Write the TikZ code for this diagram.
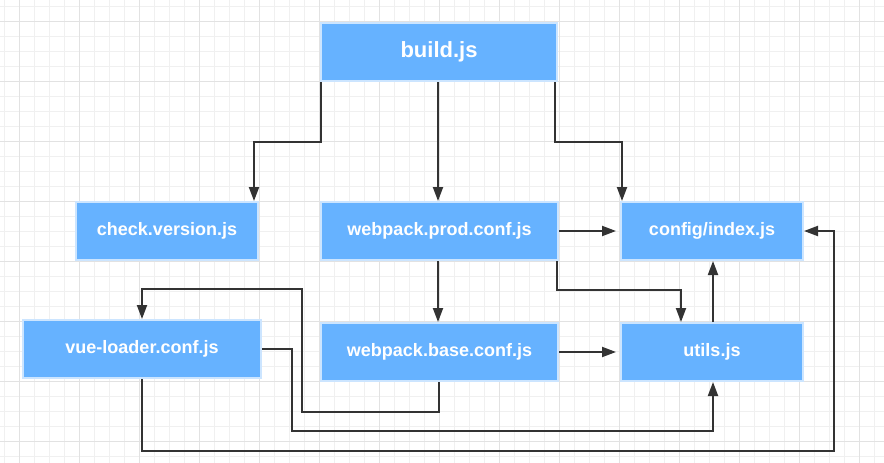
\documentclass[tikz,border=0pt]{standalone}
\usepackage{fontspec}
\setmainfont{Liberation Sans}
\usetikzlibrary{arrows.meta}
\definecolor{gridminor}{HTML}{F0F0F0}
\definecolor{gridmajor}{HTML}{E2E2E2}
\definecolor{boxfill}{HTML}{66B2FF}
\definecolor{boxedge}{HTML}{CCE5FF}
\definecolor{wire}{HTML}{333333}
\tikzset{
  filebox/.style={rectangle, fill=boxfill, draw=boxedge, line width=2pt,
    minimum height=58pt, inner sep=0pt, text=white,
    font=\fontsize{18pt}{20pt}\selectfont\bfseries},
  wirearrow/.style={draw=wire, line width=2pt,
    -{Triangle[length=14pt,width=10pt]}},
}
\begin{document}
\begin{tikzpicture}[x=1pt,y=-1pt]
\useasboundingbox (0,0) rectangle (884,463);
\fill[white] (0,0) rectangle (884,463);
% grid
\foreach \x in {4.5,19.5,...,884} \draw[gridminor, line width=1pt] (\x,0) -- (\x,463);
\foreach \y in {6.5,21.5,...,463} \draw[gridminor, line width=1pt] (0,\y) -- (884,\y);
\foreach \x in {19.5,79.5,...,884} \draw[gridmajor, line width=1pt] (\x,0) -- (\x,463);
\foreach \y in {21.5,81.5,...,463} \draw[gridmajor, line width=1pt] (0,\y) -- (884,\y);
% nodes
\node[filebox, minimum width=236pt, font=\fontsize{22pt}{24pt}\selectfont\bfseries] (build) at (439,52) {build.js};
\node[filebox, minimum width=182pt] (check) at (167,231) {check.version.js};
\node[filebox, minimum width=237pt] (prod) at (439.5,231) {webpack.prod.conf.js};
\node[filebox, minimum width=182pt] (config) at (712,231) {config/index.js};
\node[filebox, minimum width=182pt] (utils) at (712,352) {utils.js};
\node[filebox, minimum width=238pt] (vue) at (142,349) {vue-loader.conf.js};
\node[filebox, minimum width=237pt] (base) at (439.5,352) {webpack.base.conf.js};
% connectors
\draw[wirearrow] ([xshift=-118pt]build.south) -- ++(0,60) -| ([xshift=-5pt]check.north east);
\draw[wirearrow] ([xshift=-1pt]build.south) -- ([xshift=-1.5pt]prod.north);
\draw[wirearrow] ([xshift=116pt]build.south) -- ++(0,60) -| ([xshift=2pt]config.north west);
\draw[wirearrow, shorten >=4pt] (prod.east) -- (config.west);
\draw[wirearrow] ([xshift=117pt]prod.south) -- ++(0,29) -| ([xshift=-31pt]utils.north);
\draw[wirearrow] ([xshift=-1.5pt]prod.south) -- ([xshift=-1.5pt]base.north);
\draw[wirearrow] ([xshift=-1pt]base.south) -- ++(0,30) -- ++(-136.5,0) -- ++(0,-123) -| (vue.north);
\draw[wirearrow] (vue.east) -- ++(30,0) -- ++(0,82) -| ([xshift=1pt]utils.south);
\draw[wirearrow] (vue.south) -- ++(0,72) -- ++(692,0) |- (config.east);
\draw[wirearrow, shorten >=4pt] (base.east) -- (utils.west);
\draw[wirearrow] ([xshift=1pt]utils.north) -- ([xshift=1pt]config.south);
\end{tikzpicture}
\end{document}
